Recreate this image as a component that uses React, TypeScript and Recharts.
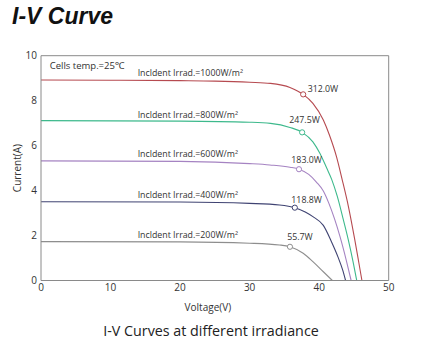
import React from "react";
import {
  LineChart,
  Line,
  XAxis,
  YAxis,
  ReferenceDot,
} from "recharts";

// I-V curves at 25°C for five irradiance levels
const irradiance = [1000, 800, 600, 400, 200];
const maxPower = ["312.0W", "247.5W", "183.0W", "118.8W", "55.7W"];

const v1000 = [0, 10, 20, 25, 30, 33, 35.8, 37.7, 39.1, 40.6, 41.5, 42.5, 43.3, 44.2, 45.1, 45.7, 46.15];
const i1000 = [8.92, 8.91, 8.89, 8.87, 8.82, 8.77, 8.59, 8.28, 7.88, 7.14, 6.45, 5.5, 4.5, 3.3, 1.85, 0.8, 0];

const v800 = [0, 20, 30, 33, 35.8, 37.55, 39.1, 40.1, 41.1, 41.8, 42.6, 43.4, 44.2, 44.9, 45.4];
const i800 = [7.11, 7.09, 7.04, 6.99, 6.81, 6.59, 6.17, 5.66, 4.99, 4.5, 3.75, 2.8, 1.8, 0.8, 0];

const v600 = [0, 20, 30, 32.9, 35.8, 37.1, 38.5, 39.6, 40.6, 41.4, 42.2, 43.0, 43.9, 44.6];
const i600 = [5.32, 5.3, 5.2, 5.14, 5.04, 4.95, 4.72, 4.38, 3.98, 3.43, 2.75, 1.95, 0.9, 0];

const v400 = [0, 20, 30, 34.3, 36.5, 38.0, 39.1, 40.6, 41.8, 42.7, 43.4, 43.8];
const i400 = [3.5, 3.49, 3.43, 3.36, 3.24, 3.05, 2.84, 2.45, 1.7, 1.05, 0.45, 0];

const v200 = [0, 20, 30, 34.3, 35.8, 37.7, 39.1, 40.6, 41.9];
const i200 = [1.73, 1.72, 1.66, 1.58, 1.5, 1.21, 0.84, 0.39, 0];

// maximum power points
const mppV = [37.7, 37.55, 37.1, 36.5, 35.8];
const mppI = [8.28, 6.59, 4.95, 3.24, 1.5];

const xTicks = [0, 10, 20, 30, 40, 50];
const xMinorTicks = [5, 15, 25, 35, 45];
const xTopTicks = [5, 10, 15, 20, 25, 30, 35, 40, 45];
const yTicks = [0, 2, 4, 6, 8, 10];
const yMinorTicks = [1, 3, 5, 7, 9];
const yRightTicks = [1, 2, 3, 4, 5, 6, 7, 8, 9];

const zip = (v: number[], i: number[]) => v.map((x, k) => ({ v: x, i: i[k] }));
const curves = [zip(v1000, i1000), zip(v800, i800), zip(v600, i600), zip(v400, i400), zip(v200, i200)];

const COLORS = ["#b64a50", "#3db98c", "#a583c2", "#3f4372", "#8e8e8e"];
const AXIS = "#8a8a8a";
const TEXT = "#333";
const FONT = '"Open Sans", "Noto Sans", sans-serif';

// label anchors (left edge, vertical middle) in data units
const irradLabelAt = [[13.9, 9.22], [13.9, 7.38], [13.9, 5.63], [13.9, 3.8], [13.9, 2.02]];
const powerLabelAt = [[38.35, 8.52], [35.7, 7.14], [36.0, 5.36], [36.0, 3.58], [35.4, 1.95]];

const YLabel = (props: any) => {
  const { viewBox } = props;
  const x = viewBox.x + 6;
  const y = viewBox.y + viewBox.height / 2;
  return (
    <text x={x} y={y} transform={`rotate(-90 ${x} ${y})`} textAnchor="middle" dominantBaseline="central"
      fontSize={10} fill={TEXT} fontFamily={FONT}>
      Current(A)
    </text>
  );
};

const XLabel = (props: any) => {
  const { viewBox } = props;
  const x = viewBox.x + viewBox.width / 2 - 7;
  return (
    <text x={x} y={viewBox.y + 26} textAnchor="middle" dominantBaseline="central"
      fontSize={10} fill={TEXT} fontFamily={FONT}>
      Voltage(V)
    </text>
  );
};

export default function App() {
  const tickStyle = { fontSize: 10, fill: TEXT, fontFamily: FONT };
  const textLabel = (value: string) => ({
    value,
    position: "right" as const,
    offset: 0,
    fontSize: 8.8,
    fill: TEXT,
    fontFamily: FONT,
  });

  return (
    <div style={{ position: "absolute", left: 0, top: 0, width: 431, height: 344, background: "#fff" }}>
      <LineChart
        width={431}
        height={344}
        margin={{ top: 55.7, right: 42.3, bottom: 33.5, left: 11 }}
      >
        <XAxis xAxisId="v" type="number" dataKey="v" domain={[0, 50]} ticks={xTicks} interval={0}
          tickLine={false} tickSize={0} tickMargin={3.5} axisLine={{ stroke: AXIS }} height={30}
          tick={tickStyle} label={<XLabel />} />
        <XAxis xAxisId="vMaj" type="number" domain={[0, 50]} ticks={xTicks} interval={0} mirror
          tick={false} axisLine={false} tickSize={3.5} tickLine={{ stroke: AXIS }} />
        <XAxis xAxisId="vMin" type="number" domain={[0, 50]} ticks={xMinorTicks} interval={0} mirror
          tick={false} axisLine={false} tickSize={2} tickLine={{ stroke: AXIS }} />
        <XAxis xAxisId="top" orientation="top" type="number" domain={[0, 50]} ticks={xTopTicks} interval={0} mirror
          tick={false} axisLine={{ stroke: AXIS }} tickSize={3} tickLine={{ stroke: AXIS }} />

        <YAxis yAxisId="i" type="number" domain={[0, 10]} ticks={yTicks} interval={0}
          tickLine={false} tickSize={0} tickMargin={4} width={30} axisLine={{ stroke: AXIS }}
          tick={tickStyle} label={<YLabel />} />
        <YAxis yAxisId="iMaj" type="number" domain={[0, 10]} ticks={yTicks} interval={0} mirror
          tick={false} axisLine={false} tickSize={3.5} tickLine={{ stroke: AXIS }} />
        <YAxis yAxisId="iMin" type="number" domain={[0, 10]} ticks={yMinorTicks} interval={0} mirror
          tick={false} axisLine={false} tickSize={2} tickLine={{ stroke: AXIS }} />
        <YAxis yAxisId="right" orientation="right" type="number" domain={[0, 10]} ticks={yRightTicks} interval={0} mirror
          tick={false} axisLine={{ stroke: AXIS }} tickSize={3} tickLine={{ stroke: AXIS }} />

        {curves.map((data, k) => (
          <Line key={irradiance[k]} data={data} dataKey="i" xAxisId="v" yAxisId="i" type="monotone"
            stroke={COLORS[k]} strokeWidth={1.1} dot={false} activeDot={false} isAnimationActive={false} />
        ))}

        {mppV.map((v, k) => (
          <ReferenceDot key={`mpp${k}`} x={v} y={mppI[k]} xAxisId="v" yAxisId="i" r={2.6}
            fill="#fff" stroke={COLORS[k]} strokeWidth={1} />
        ))}

        <ReferenceDot x={1.25} y={9.54} xAxisId="v" yAxisId="i" r={0} fill="none" stroke="none"
          label={{ ...textLabel("Cells temp.=25℃"), fontSize: 9.5 }} />
        {irradiance.map((g, k) => (
          <ReferenceDot key={`irr${g}`} x={irradLabelAt[k][0]} y={irradLabelAt[k][1]} xAxisId="v" yAxisId="i"
            r={0} fill="none" stroke="none" label={textLabel(`Incldent Irrad.=${g}W/m²`)} />
        ))}
        {maxPower.map((p, k) => (
          <ReferenceDot key={`pw${k}`} x={powerLabelAt[k][0]} y={powerLabelAt[k][1]} xAxisId="v" yAxisId="i"
            r={0} fill="none" stroke="none" label={textLabel(p)} />
        ))}
      </LineChart>

      <div style={{ position: "absolute", left: 12, top: 5, fontFamily: '"Liberation Sans", Arial, sans-serif',
        fontWeight: "bold", fontStyle: "italic", fontSize: 23, lineHeight: "23px", color: "#111" }}>
        I-V Curve
      </div>
      <div style={{ position: "absolute", left: 0, width: 422, top: 322, textAlign: "center", fontFamily: FONT,
        fontSize: 14.3, lineHeight: "18px", color: "#222" }}>
        I-V Curves at different irradiance
      </div>
    </div>
  );
}
